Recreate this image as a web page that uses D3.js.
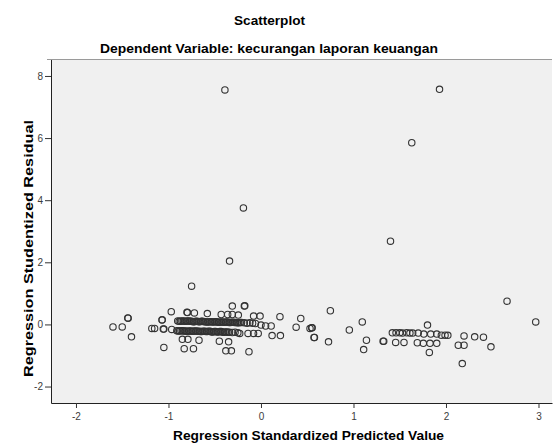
<!DOCTYPE html>
<html>
<head>
<meta charset="utf-8">
<script src="https://cdn.jsdelivr.net/npm/d3@7"></script>
<style>
  body { margin: 0; background: #fff; }
  text { font-family: "Liberation Sans", Arial, sans-serif; }
</style>
</head>
<body>
<svg id="chart" width="553" height="446"></svg>
<script>
// chart texts
titleText = "Scatterplot";
subtitleText = "Dependent Variable: kecurangan laporan keuangan";
xLabel = "Regression Standardized Predicted Value";
yLabel = "Regression Studentized Residual";

xTicks = [-2, -1, 0, 1, 2, 3];
yTicks = [-2, 0, 2, 4, 6, 8];

// [standardized predicted value, studentized residual]
outlierCases = [[-0.39, 7.55], [-0.19, 3.75], [-0.34, 2.04], [-0.75, 1.23], [1.93, 7.57],
  [1.63, 5.85], [1.40, 2.68], [2.66, 0.75], [2.97, 0.08]];

leftCases = [[-1.60, -0.08], [-1.50, -0.08], [-1.44, 0.21], [-1.436, 0.20], [-1.40, -0.40],
  [-1.18, -0.13], [-1.15, -0.13], [-1.07, 0.14], [-1.068, 0.15], [-1.056, -0.15], [-1.05, -0.15],
  [-1.05, -0.74], [-0.97, 0.41], [-0.965, -0.16], [-0.85, -0.48], [-0.79, -0.48], [-0.83, -0.78],
  [-0.73, -0.78], [-0.80, 0.39], [-0.795, 0.38], [-0.72, 0.37], [-0.67, -0.51], [-0.58, 0.35],
  [-0.45, -0.54], [-0.35, -0.56], [-0.38, -0.85], [-0.32, -0.85], [-0.43, 0.32], [-0.36, 0.32],
  [-0.31, 0.32], [-0.245, 0.30], [-0.31, 0.59], [-0.18, 0.59], [-0.175, 0.60], [-0.08, 0.27],
  [-0.01, 0.27], [0.205, 0.25], [0.43, 0.19], [0.38, -0.09], [0.53, -0.13], [0.548, -0.11],
  [0.553, -0.11], [0.573, -0.42], [0.578, -0.42], [0.73, -0.56], [0.75, 0.44], [0.955, -0.18],
  [1.095, 0.08], [1.14, -0.51], [1.11, -0.81], [1.32, -0.54], [1.327, -0.54], [-0.13, -0.88],
  [0.00, -0.02], [0.05, -0.05], [0.11, -0.05], [0.12, -0.36], [0.21, -0.36], [-0.23, -0.29],
  [-0.14, -0.29], [-0.08, -0.29], [-0.03, -0.29]];

denseUpper = [[-0.90, 0.11], [-0.885, 0.10], [-0.87, 0.10], [-0.855, 0.11], [-0.84, 0.11],
  [-0.825, 0.10], [-0.81, 0.10], [-0.795, 0.11], [-0.78, 0.11], [-0.765, 0.10], [-0.75, 0.10],
  [-0.735, 0.09], [-0.72, 0.09], [-0.705, 0.10], [-0.69, 0.10], [-0.675, 0.09], [-0.66, 0.09],
  [-0.645, 0.10], [-0.63, 0.10], [-0.615, 0.09], [-0.60, 0.09], [-0.585, 0.08], [-0.57, 0.08],
  [-0.555, 0.09], [-0.54, 0.09], [-0.525, 0.08], [-0.51, 0.08], [-0.495, 0.09], [-0.48, 0.09],
  [-0.465, 0.07], [-0.45, 0.07], [-0.435, 0.08], [-0.42, 0.08], [-0.405, 0.07], [-0.39, 0.07],
  [-0.375, 0.08], [-0.36, 0.08], [-0.345, 0.06], [-0.33, 0.06], [-0.315, 0.07], [-0.30, 0.07],
  [-0.285, 0.06], [-0.27, 0.06], [-0.255, 0.05], [-0.24, 0.05], [-0.225, 0.06], [-0.21, 0.06],
  [-0.18, 0.05], [-0.15, 0.04], [-0.12, 0.05], [-0.09, 0.04], [-0.06, 0.03]];

denseLower = [[-0.91, -0.20], [-0.895, -0.21], [-0.88, -0.21], [-0.865, -0.20], [-0.85, -0.20],
  [-0.835, -0.21], [-0.82, -0.21], [-0.805, -0.22], [-0.79, -0.22], [-0.775, -0.21], [-0.76, -0.21],
  [-0.745, -0.22], [-0.73, -0.22], [-0.715, -0.21], [-0.70, -0.21], [-0.685, -0.22], [-0.67, -0.22],
  [-0.655, -0.23], [-0.64, -0.23], [-0.625, -0.22], [-0.61, -0.22], [-0.595, -0.23], [-0.58, -0.23],
  [-0.565, -0.22], [-0.55, -0.22], [-0.535, -0.24], [-0.52, -0.24], [-0.505, -0.23], [-0.49, -0.23],
  [-0.475, -0.24], [-0.46, -0.24], [-0.445, -0.23], [-0.43, -0.23], [-0.415, -0.25], [-0.40, -0.25],
  [-0.385, -0.24], [-0.37, -0.24], [-0.355, -0.25], [-0.34, -0.25], [-0.31, -0.26], [-0.28, -0.25],
  [-0.25, -0.27]];

rightCases = [[1.42, -0.27], [1.46, -0.27], [1.50, -0.27], [1.53, -0.28], [1.575, -0.27],
  [1.61, -0.28], [1.64, -0.28], [1.70, -0.28], [1.76, -0.31], [1.835, -0.31], [1.90, -0.31],
  [1.95, -0.345], [1.99, -0.345], [2.02, -0.35], [2.195, -0.37], [2.31, -0.40], [2.405, -0.41],
  [1.80, -0.02], [1.456, -0.58], [1.546, -0.58], [1.69, -0.59], [1.755, -0.61], [1.827, -0.61],
  [1.90, -0.61], [1.82, -0.90], [2.133, -0.67], [2.195, -0.67], [2.486, -0.72], [2.176, -1.26]];

allCases = outlierCases.concat(leftCases, denseUpper, denseLower, rightCases);

plot = {left: 51, right: 552, top: 59.5, bottom: 403};

svg = d3.select("#chart");

x = d3.scaleLinear()
  .domain([-2.27, 3.146])
  .range([plot.left, plot.right]);

y = d3.scaleLinear()
  .domain([-2.53, 8.53])
  .range([plot.bottom, plot.top]);

function addLabel(text, px, py, size, len) {
  return svg.append("text")
    .attr("x", px).attr("y", py)
    .attr("text-anchor", "middle")
    .attr("font-size", size + "px").attr("font-weight", "bold")
    .attr("fill", "#000")
    .attr("textLength", len)
    .attr("lengthAdjust", "spacingAndGlyphs")
    .text(text);
}

// titles
addLabel(titleText, 269.5, 24.5, 13, 71);
addLabel(subtitleText, 269, 52.5, 13, 338);

// plot background
svg.append("rect")
  .attr("x", plot.left).attr("y", plot.top)
  .attr("width", plot.right - plot.left)
  .attr("height", plot.bottom - plot.top)
  .attr("fill", "#f0f0f0");

svg.append("line")
  .attr("x1", plot.left - 4).attr("x2", plot.right)
  .attr("y1", plot.top).attr("y2", plot.top)
  .attr("stroke", "#9a9a9a");

// axes
xAxis = d3.axisBottom(x)
  .tickValues(xTicks)
  .tickSize(5)
  .tickSizeOuter(0)
  .tickFormat(d => String(d));

yAxis = d3.axisLeft(y)
  .tickValues(yTicks)
  .tickSize(6)
  .tickSizeOuter(0)
  .tickFormat(d => String(d));

gx = svg.append("g")
  .attr("transform", "translate(0," + plot.bottom + ")")
  .call(xAxis);

gy = svg.append("g")
  .attr("transform", "translate(" + plot.left + ",0)")
  .call(yAxis);

[gx, gy].forEach(function(g) {
  g.select(".domain").attr("stroke", "#222");
  g.selectAll(".tick line").attr("stroke", "#333");
  g.selectAll(".tick text")
    .attr("font-family", "Liberation Sans, Arial, sans-serif")
    .attr("font-size", "10px")
    .attr("fill", "#3c3c3c");
});
gx.selectAll(".tick text").attr("dy", "0.71em").attr("y", 9.5);
gy.selectAll(".tick text").attr("x", -8);

// axis titles
addLabel(xLabel, 308.5, 440, 13, 271);
addLabel(yLabel, 0, 0, 13.5, 257)
  .attr("transform", "translate(32.5,248.5) rotate(-90)");

// points
svg.append("g")
  .selectAll("circle")
  .data(allCases)
  .enter().append("circle")
  .attr("cx", d => x(d[0]))
  .attr("cy", d => y(d[1]))
  .attr("r", 3.2)
  .attr("fill", "none")
  .attr("stroke", "#333")
  .attr("stroke-width", 1.1);
</script>
</body>
</html>
